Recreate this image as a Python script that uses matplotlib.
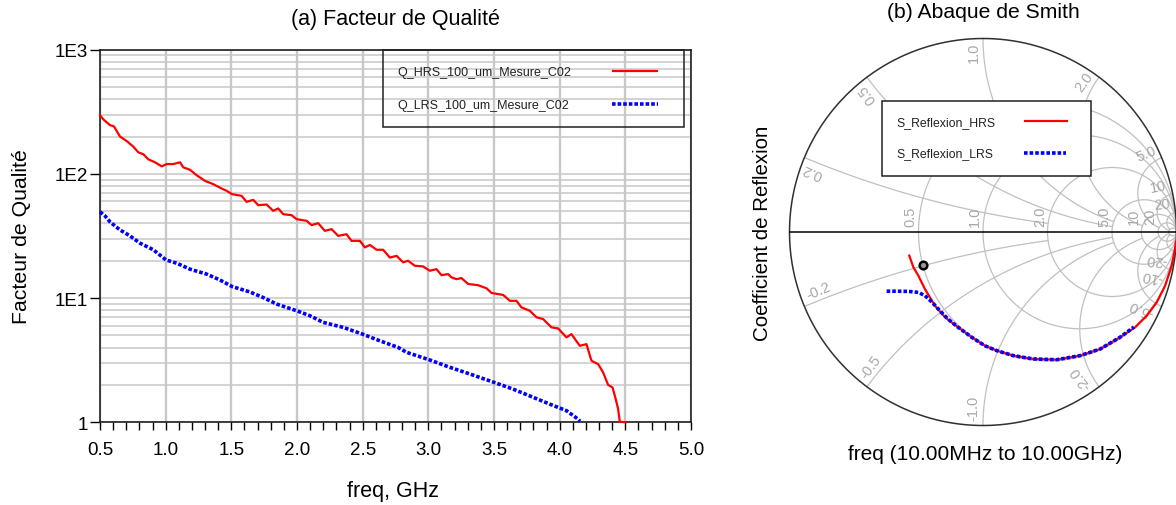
import numpy as np
import matplotlib
matplotlib.use("Agg")
import matplotlib.pyplot as plt
from matplotlib.patches import Rectangle
from matplotlib.ticker import FixedLocator, NullFormatter, LogLocator

plt.rcParams['font.family'] = ['Liberation Sans', 'DejaVu Sans']

# ---------------- Quality factor data (freq in GHz) ----------------
freq_hrs = [0.500, 0.525, 0.576, 0.607, 0.652, 0.703, 0.753, 0.792, 0.830, 0.868,
            0.919, 0.970, 1.008, 1.058, 1.109, 1.134, 1.185, 1.236, 1.299, 1.362,
            1.426, 1.464, 1.505, 1.578, 1.616, 1.667, 1.705, 1.769, 1.819, 1.857,
            1.895, 1.959, 1.997, 2.073, 2.111, 2.161, 2.212, 2.263, 2.314, 2.377,
            2.415, 2.479, 2.517, 2.555, 2.606, 2.656, 2.707, 2.758, 2.808, 2.846,
            2.897, 2.960, 3.011, 3.062, 3.100, 3.151, 3.176, 3.214, 3.252, 3.303,
            3.379, 3.443, 3.481, 3.570, 3.621, 3.671, 3.709, 3.773, 3.824, 3.874,
            3.938, 3.988, 4.052, 4.090, 4.153, 4.204, 4.242, 4.293, 4.331, 4.369,
            4.402, 4.420, 4.445, 4.458, 4.500]
q_hrs = [297, 275, 247, 241, 200, 184, 166, 149, 144, 131,
         124, 115, 120, 120, 124, 113, 108, 97.6, 87.9, 82.7,
         76.3, 73.1, 68.7, 66.6, 59.6, 61.8, 56.0, 56.7, 50.4, 52.7,
         47.4, 46.5, 43.2, 41.9, 38.7, 40.1, 34.8, 35.9, 31.7, 32.7,
         28.9, 28.9, 25.6, 26.8, 24.5, 24.5, 21.2, 21.9, 19.4, 20.0,
         18.2, 18.0, 16.6, 17.1, 15.3, 15.6, 14.7, 14.2, 14.5, 13.0,
         12.7, 12.0, 11.0, 10.6, 9.51, 9.51, 8.42, 7.90, 7.00, 6.78,
         5.81, 5.70, 4.83, 5.13, 4.13, 4.26, 3.13, 2.94, 2.52, 2.00,
         1.91, 1.64, 1.28, 1.01, 1.00]

freq_lrs = [0.500, 0.538, 0.576, 0.652, 0.728, 0.804, 0.906, 1.002, 1.084, 1.185,
            1.312, 1.413, 1.505, 1.642, 1.743, 1.845, 1.999, 2.098, 2.199, 2.352,
            2.499, 2.631, 2.770, 2.834, 3.006, 3.164, 3.316, 3.498, 3.645, 3.798,
            3.925, 4.052, 4.140, 4.155]
q_lrs = [49.5, 45.9, 41.1, 35.4, 31.7, 27.7, 24.5, 20.3, 19.1, 17.1,
         15.6, 14.0, 12.4, 11.2, 10.1, 8.95, 7.90, 7.21, 6.38, 5.81,
         5.13, 4.53, 4.01, 3.66, 3.19, 2.77, 2.45, 2.10, 1.85, 1.59,
         1.40, 1.24, 1.06, 1.02]

# ---------------- Reflection coefficient data (real, imag) ----------------
gam_hrs_re = [-0.381, -0.360, -0.334, -0.300, -0.248, -0.196, -0.128, -0.058, 0.010, 0.071,
              0.157, 0.260, 0.381, 0.501, 0.605, 0.708, 0.786, 0.846, 0.898, 0.941,
              0.975, 0.992, 0.997]
gam_hrs_im = [-0.122, -0.182, -0.226, -0.295, -0.381, -0.441, -0.493, -0.544, -0.588, -0.613,
              -0.639, -0.656, -0.660, -0.639, -0.605, -0.544, -0.493, -0.433, -0.363, -0.278,
              -0.174, -0.088, -0.050]
gam_lrs_re = [-0.498, -0.444, -0.386, -0.334, -0.300, -0.264, -0.222, -0.181, -0.128, -0.058,
              0.010, 0.071, 0.157, 0.260, 0.381, 0.501, 0.605, 0.708, 0.780]
gam_lrs_im = [-0.306, -0.306, -0.307, -0.312, -0.329, -0.362, -0.408, -0.450, -0.493, -0.544,
              -0.588, -0.613, -0.639, -0.656, -0.660, -0.639, -0.605, -0.544, -0.491]
marker_re, marker_im = [-0.309], [-0.169]

# Smith grid definition
r_circles = [0.5, 1.0, 2.0, 5.0, 10.0, 20.0, 50.0]
r_labels = ["0.5", "1.0", "2.0", "5.0", "10", "20"]
x_arcs = [0.2, 0.5, 1.0, 2.0, 5.0, 10.0, 20.0]
x_arc_rmax = [2.0, 5.0, 5.0, 10.0, 20.0, 50.0, 50.0]
x_labels = ["0.2", "0.5", "1.0", "2.0", "5.0", "10", "20"]

W, H = 1176, 506
fig = plt.figure(figsize=(W / 100, H / 100), dpi=100)

# ================= (a) Quality factor =================
L, R, T, B = 100, 691, 50.7, 423.3
ax = fig.add_axes([L / W, 1 - B / H, (R - L) / W, (B - T) / H])
ax.set_yscale('log')
ax.set_xlim(0.5, 5.0)
ax.set_ylim(1, 1000)

grid_c = '#c8c8c8'
ax.set_xticks(np.arange(0.5, 5.01, 0.5))
ax.set_xticklabels([f"{v:.1f}" for v in np.arange(0.5, 5.01, 0.5)])
ax.xaxis.set_minor_locator(FixedLocator(np.arange(0.5, 5.001, 0.1)))
ax.yaxis.set_major_locator(FixedLocator([1, 10, 100, 1000]))
ax.set_yticklabels(["1", "1E1", "1E2", "1E3"])
ax.yaxis.set_minor_locator(LogLocator(base=10, subs=np.arange(2, 10)))
ax.yaxis.set_minor_formatter(NullFormatter())

ax.grid(True, which='major', axis='x', color=grid_c, lw=1.7)
ax.grid(True, which='both', axis='y', color=grid_c, lw=1.1)
ax.set_axisbelow(True)

ax.tick_params(axis='x', which='major', direction='out', length=5.5, width=1.0,
               pad=8, labelsize=13.5)
ax.tick_params(axis='x', which='minor', direction='out', length=5.5, width=1.0)
ax.tick_params(axis='y', which='major', direction='out', length=7, width=1.0,
               pad=1.5, labelsize=13.5)
ax.tick_params(axis='y', which='minor', length=0)
for s in ax.spines.values():
    s.set_linewidth(1.2)
    s.set_color('#202020')

ax.plot(freq_hrs, q_hrs, color='#ff0000', lw=1.6, clip_on=False, zorder=3)
ax.plot(freq_lrs, q_lrs, color='#0000ff', lw=2.6, ls=(0, (1.0, 0.55)),
        dash_capstyle='butt', clip_on=False, zorder=3)

# legend box (transparent, grid shows through)
ax.add_patch(Rectangle((0.479, 0.7925), 0.988 - 0.479, 1 - 0.7925, transform=ax.transAxes,
                       fill=False, ec='#202020', lw=1.1, zorder=4, clip_on=False))
ax.text(0.5025, 0.940, "Q_HRS_100_um_Mesure_C02", transform=ax.transAxes,
        fontsize=9, color='#222222', va='center', ha='left', zorder=5)
ax.text(0.5025, 0.8516, "Q_LRS_100_um_Mesure_C02", transform=ax.transAxes,
        fontsize=9, color='#222222', va='center', ha='left', zorder=5)
ax.plot([0.868, 0.9425], [0.943, 0.943], transform=ax.transAxes, color='#ff0000',
        lw=1.6, zorder=5, clip_on=False)
ax.plot([0.866, 0.944], [0.854, 0.854], transform=ax.transAxes, color='#0000ff',
        lw=2.6, ls=(0, (1.0, 0.55)), dash_capstyle='butt', zorder=5, clip_on=False)

fig.text(395 / W, 1 - 20 / H, "(a) Facteur de Qualité", fontsize=15.5,
         ha='center', va='center')
fig.text(393 / W, 1 - 492 / H, "freq, GHz", fontsize=15.5, ha='center', va='center')
fig.text(22 / W, 1 - 237 / H, "Facteur de Qualité", fontsize=15.3, ha='center',
         va='center', rotation=90)

# ================= (b) Smith chart =================
cx, cy, rad = 983, 233, 193.5
ax2 = fig.add_axes([(cx - rad) / W, 1 - (cy + rad) / H, 2 * rad / W, 2 * rad / H])
ax2.set_xlim(-1, 1)
ax2.set_ylim(-1, 1)
ax2.set_aspect('equal')
ax2.axis('off')

sg = '#c0c0c0'


def gam(z):
    return (z - 1) / (z + 1)


for r in r_circles:
    t = np.linspace(-np.pi / 2 + 1e-4, np.pi / 2 - 1e-4, 1500)
    g = gam(r + 1j * np.tan(t))
    ax2.plot(g.real, g.imag, color=sg, lw=0.9, clip_on=False, zorder=1)

for xv, rmax in zip(x_arcs, x_arc_rmax):
    t = np.linspace(0, np.arctan(rmax), 600)
    for s in (1, -1):
        g = gam(np.tan(t) + 1j * s * xv)
        ax2.plot(g.real, g.imag, color=sg, lw=0.9, clip_on=False, zorder=1)

# outer boundary and real axis
th = np.linspace(0, 2 * np.pi, 800)
ax2.plot(np.cos(th), np.sin(th), color='#303030', lw=1.1, clip_on=False, zorder=2)
ax2.plot([-1, 1], [0, 0], color='black', lw=1.1, clip_on=False, zorder=2)

lab_c = '#a8a8a8'
for r, lab in zip(r_circles, r_labels):
    gx = (r - 1) / (r + 1)
    ax2.text(gx - 0.04, 0.085, lab, rotation=90, fontsize=10.5, color=lab_c,
             ha='center', va='center', zorder=2)

for xv, lab in zip(x_arcs, x_labels):
    ang = np.degrees(np.pi - 2 * np.arctan(xv))
    a_up = np.radians(ang + 3)
    ax2.text(0.935 * np.cos(a_up), 0.935 * np.sin(a_up), lab, rotation=ang,
             rotation_mode='anchor', fontsize=10.5, color=lab_c, ha='center',
             va='center', zorder=2)
    a_dn = np.radians(-(ang + 3))
    ax2.text(0.905 * np.cos(a_dn), 0.905 * np.sin(a_dn), "-" + lab, rotation=180 - ang,
             rotation_mode='anchor', fontsize=10.5, color=lab_c, ha='center',
             va='center', zorder=2)

ax2.plot(gam_hrs_re, gam_hrs_im, color='#ff0000', lw=1.6, clip_on=False, zorder=4)
ax2.plot(gam_lrs_re, gam_lrs_im, color='#0000ff', lw=2.6, ls=(0, (1.0, 0.55)),
         dash_capstyle='butt', clip_on=False, zorder=5)
ax2.plot(marker_re, marker_im, 'o', ms=5.5, mfc='#9a9a9a', mec='black', mew=1.8,
         zorder=6, clip_on=False)

# legend box (opaque)
ax2.add_patch(Rectangle((-0.522, 0.291), 0.557 + 0.522, 0.679 - 0.291, fc='white',
                        ec='#202020', lw=1.1, zorder=7, clip_on=False))
ax2.text(-0.450, 0.568, "S_Reflexion_HRS", fontsize=8.8, color='#222222',
         va='center', ha='left', zorder=8)
ax2.text(-0.450, 0.408, "S_Reflexion_LRS", fontsize=8.8, color='#222222',
         va='center', ha='left', zorder=8)
ax2.plot([0.217, 0.434], [0.574, 0.574], color='#ff0000', lw=1.6, zorder=8, clip_on=False)
ax2.plot([0.212, 0.429], [0.408, 0.408], color='#0000ff', lw=2.6, ls=(0, (1.0, 0.55)),
         dash_capstyle='butt', zorder=8, clip_on=False)

fig.text(983 / W, 1 - 12 / H, "(b) Abaque de Smith", fontsize=15.2,
         ha='center', va='center')
fig.text(985 / W, 1 - 455 / H, "freq (10.00MHz to 10.00GHz)", fontsize=15,
         ha='center', va='center')
fig.text(762 / W, 1 - 233 / H, "Coefficient de Reflexion", fontsize=14.8,
         ha='center', va='center', rotation=90)

fig.savefig("out.png", dpi=100)
